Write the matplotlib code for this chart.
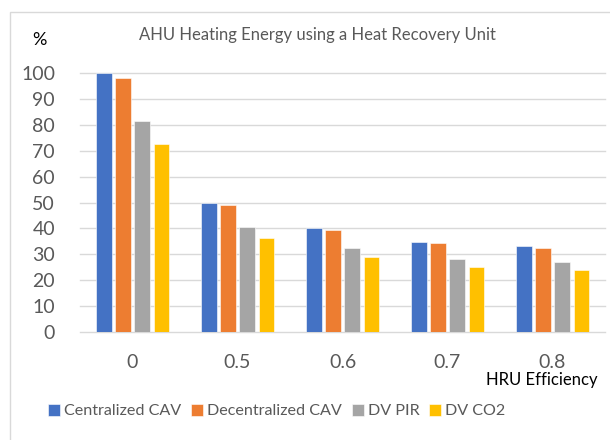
import numpy as np
import matplotlib.pyplot as plt
from matplotlib.patches import Rectangle

plt.rcParams['font.family'] = ['Lato', 'DejaVu Sans']

efficiency = ['0', '0.5', '0.6', '0.7', '0.8']
centralized_cav = [100, 49.8, 40.0, 34.9, 33.2]
decentralized_cav = [98.1, 48.9, 39.3, 34.2, 32.6]
dv_pir = [81.5, 40.6, 32.5, 28.3, 27.0]
dv_co2 = [72.7, 36.3, 29.0, 25.2, 24.1]

series = [
    ('Centralized CAV', centralized_cav, '#4472C4'),
    ('Decentralized CAV', decentralized_cav, '#ED7D31'),
    ('DV PIR', dv_pir, '#A5A5A5'),
    ('DV CO2', dv_co2, '#FFC000'),
]

fig = plt.figure(figsize=(6.1, 4.4), dpi=100)
ax = fig.add_axes([80/610, 1 - 332/440, 525/610, 259/440])

# chart frame (cut off on right/bottom like the screenshot)
fig.patches.append(Rectangle((10/610, -0.1), 1.2, 1 - 12/440 + 0.1, transform=fig.transFigure,
                             fill=False, edgecolor='#d9d9d9', linewidth=1))

x = np.arange(len(efficiency))
w = 0.143
step = 0.181
for i, (name, vals, color) in enumerate(series):
    ax.bar(x + (i - 1.5) * step, vals, width=w, color=color, label=name,
           edgecolor='white', linewidth=0.4, zorder=3)

ax.set_xlim(-0.5, len(efficiency) - 0.5)
ax.set_ylim(0, 100)
ax.set_yticks(range(0, 101, 10))
ax.set_xticks(x)
ax.set_xticklabels(efficiency)
ax.yaxis.grid(True, color='#d9d9d9', linewidth=1, zorder=0)
for g in ax.get_ygridlines():
    g.set_clip_on(False)
for s in ax.spines.values():
    s.set_visible(False)
ax.tick_params(length=0, labelsize=14, labelcolor='#595959')
ax.tick_params(axis='y', pad=18)
ax.tick_params(axis='x', pad=16)

fig.text(39/610, 1 - 40/440, '%', fontsize=13, color='black', ha='center', va='center')
fig.text(317/610, 1 - 35/440, 'AHU Heating Energy using a Heat Recovery Unit',
         fontsize=12, color='#595959', ha='center', va='center')
fig.text(598/610, 1 - 380/440, 'HRU Efficiency', fontsize=12, color='black',
         ha='right', va='center')

fig.legend(loc='center', bbox_to_anchor=(277/610, 1 - 411/440), ncol=4, frameon=False,
           fontsize=11.6, labelcolor='#595959', handlelength=0.75, handleheight=0.75,
           handletextpad=0.25, columnspacing=0.6)

fig.savefig('out.png', dpi=100)
